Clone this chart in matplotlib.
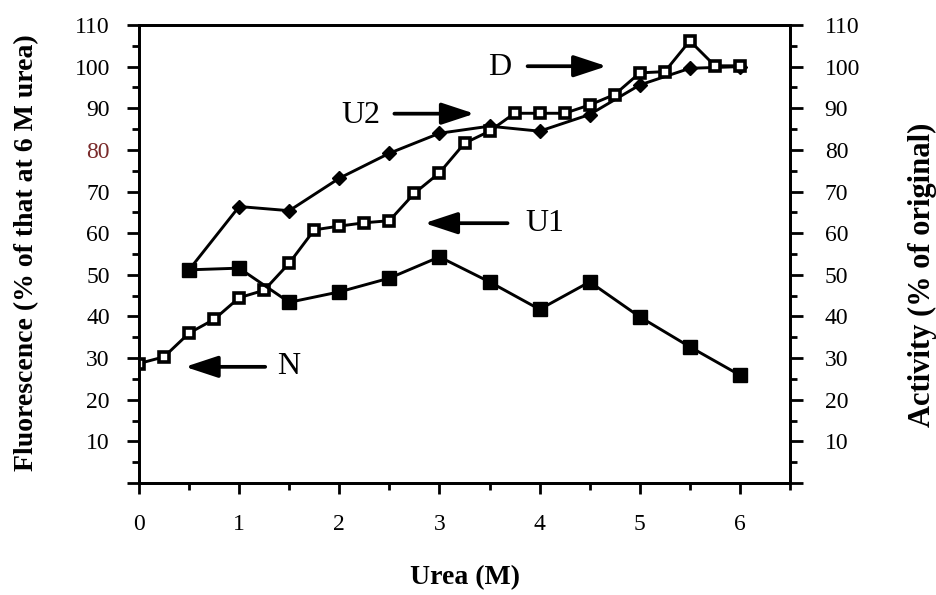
import matplotlib
matplotlib.use("Agg")
import matplotlib.pyplot as plt
from matplotlib.ticker import MultipleLocator

plt.rcParams["font.family"] = ["Liberation Serif", "DejaVu Serif"]

# Urea concentrations (M)
urea_fine = [0, 0.25, 0.5, 0.75, 1.0, 1.25, 1.5, 1.75, 2.0, 2.25, 2.5, 2.75,
             3.0, 3.25, 3.5, 3.75, 4.0, 4.25, 4.5, 4.75, 5.0, 5.25, 5.5, 5.75, 6.0]
fluor_open = [28.7, 30.3, 36.0, 39.3, 44.5, 46.3, 52.8, 60.8, 61.7, 62.5, 63.0, 69.6,
              74.5, 81.6, 84.5, 88.8, 88.8, 88.8, 90.8, 93.3, 98.5, 98.8, 106.2, 100.2, 100.2]

urea_half = [0.5, 1.0, 1.5, 2.0, 2.5, 3.0, 3.5, 4.0, 4.5, 5.0, 5.5, 6.0]
fluor_diamond = [51.2, 66.4, 65.4, 73.2, 79.2, 84.0, 85.7, 84.5, 88.5, 95.6, 99.6, 100.0]
activity = [51.2, 51.6, 43.4, 45.9, 49.2, 54.3, 48.3, 41.7, 48.3, 39.9, 32.7, 25.9]

x_ticks = [0, 1, 2, 3, 4, 5, 6]
y_ticks = [0, 10, 20, 30, 40, 50, 60, 70, 80, 90, 100, 110]
y_tick_labels = [""] + [str(v) for v in y_ticks[1:]]

# State labels with arrow (text position, arrow tail, arrow tip)
states = ["D", "U2", "U1", "N"]
state_text_xy = [(3.60, 99.7), (2.22, 88.3), (4.05, 62.4), (1.49, 27.9)]
state_arrow_from = [(3.88, 100.1), (2.55, 88.7), (3.68, 62.4), (1.26, 27.9)]
state_arrow_to = [(4.67, 100.1), (3.35, 88.7), (2.85, 62.4), (0.46, 27.9)]

fig = plt.figure(figsize=(9.36, 5.95), dpi=100)
ax = fig.add_axes([139 / 936, 1 - 483 / 595, 651 / 936, 458 / 595])
ax2 = ax.twinx()

lw = 2.1
ax.plot(urea_half, fluor_diamond, color="black", lw=lw, marker="D", ms=7.5,
        mfc="black", mec="black", zorder=3)
ax.plot(urea_fine, fluor_open, color="black", lw=lw, marker="s", ms=6.8,
        mfc="white", mec="black", mew=2.6, zorder=4)
ax2.plot(urea_half, activity, color="black", lw=lw, marker="s", ms=10.0,
         mfc="black", mec="black", zorder=5)

for a in (ax, ax2):
    a.set_xlim(0, 6.5)
    a.set_ylim(0, 110)
    for s in a.spines.values():
        s.set_linewidth(2.0)
        s.set_color("black")

ax.xaxis.set_major_locator(MultipleLocator(1))
ax.xaxis.set_minor_locator(MultipleLocator(0.5))
ax.set_xticks(x_ticks)
ax.set_xticklabels([str(v) for v in x_ticks])
ax.set_yticks(y_ticks)
ax.set_yticklabels(y_tick_labels)
ax.yaxis.set_minor_locator(MultipleLocator(5))
ax2.set_yticks(y_ticks)
ax2.set_yticklabels(y_tick_labels)
ax2.yaxis.set_minor_locator(MultipleLocator(5))

tick_kw = dict(direction="out", width=2.0, color="black", labelsize=17)
ax.tick_params(axis="x", which="major", length=8, pad=14, top=False, **tick_kw)
ax.tick_params(axis="x", which="minor", length=5, width=2.0, direction="out", top=False)
ax.tick_params(axis="y", which="major", length=9, pad=12, right=False, **tick_kw)
ax.tick_params(axis="y", which="minor", length=5, width=2.0, direction="out", right=False)
ax2.tick_params(axis="y", which="major", length=9, pad=16, **tick_kw)
ax2.tick_params(axis="y", which="minor", length=5, width=2.0, direction="out")

for lab in ax.get_yticklabels():
    if lab.get_text() == "80":
        lab.set_color("#7a2b2b")

ax.set_xlabel("Urea (M)", fontsize=20, fontweight="bold")
ax.xaxis.set_label_coords(0.5, -0.207)
ax.xaxis.label.set_va("center")
ax.set_ylabel("Fluorescence (% of that at 6 M urea)", fontsize=20, fontweight="bold")
ax.yaxis.set_label_coords(-0.172, 0.504)
ax.yaxis.label.set_va("center")
ax2.set_ylabel("Activity (% of original)", fontsize=22, fontweight="bold", rotation=90)
ax2.yaxis.set_label_coords(1.203, 0.454)
ax2.yaxis.label.set_va("center")

for name, txy, a_from, a_to in zip(states, state_text_xy, state_arrow_from, state_arrow_to):
    ax2.text(txy[0], txy[1], name, fontsize=23, ha="center", va="center", zorder=6)
    ax2.annotate("", xy=a_to, xytext=a_from,
                 arrowprops=dict(arrowstyle="-|>,head_length=1.0,head_width=0.33",
                                 lw=2.7, color="black", shrinkA=0, shrinkB=0,
                                 mutation_scale=20),
                 zorder=6)

fig.savefig("out.png", dpi=100)
